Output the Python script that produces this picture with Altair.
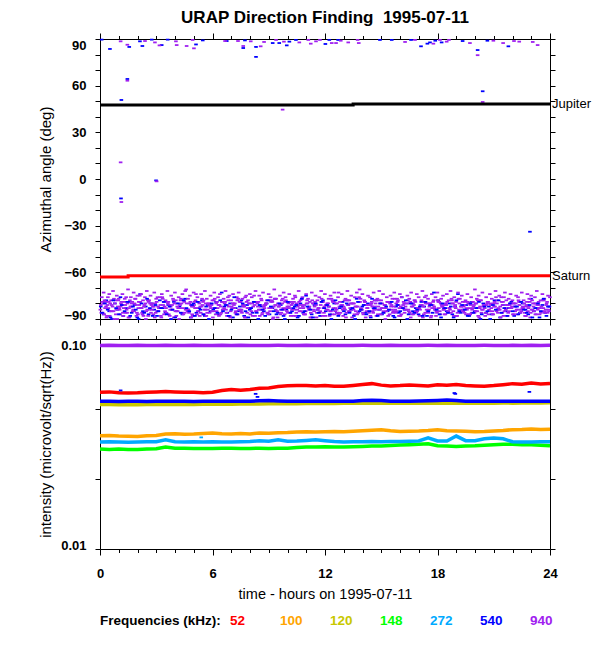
import altair as alt
import pandas as pd

FONT = "Liberation Sans"

FREQS = ["52", "100", "120", "148", "272", "540", "940"]
COLORS = ["#ff0000", "#ffa500", "#c8c800", "#00ff00", "#00aaff", "#0000ff", "#a020f0"]

TITLE = "URAP Direction Finding\u00a0 1995-07-11"
LEG_TITLE = "Frequencies (kHz):"

# ---------------- top panel: azimuthal angle ----------------
# dense band near -80 deg, purple (940 kHz), four interleaved rows, 0.1 h apart
P_STEP = 0.1
P1 = [-84,-79,-87,-82,-76,-88,-81,-85,-78,-90,-83,-80,-86,-77,-84,-89,-82,-79,-85,-81,
      -87,-75,-83,-88,-80,-84,-78,-86,-82,-89,-79,-85,-81,-76,-87,-83,-80,-88,-84,-78,
      -85,-82,-90,-77,-83,-86,-80,-84,-79,-87,-81,-74,-85,-88,-82,-78,-84,-86,-80,-83,
      -89,-77,-85,-81,-87,-79,-83,-84,-76,-88,-82,-80,-86,-78,-84,-85,-81,-89,-79,-83,
      -87,-80,-75,-85,-82,-88,-78,-84,-81,-86,-83,-79,-90,-77,-85,-82,-87,-80,-84,-78,
      -86,-83,-81,-88,-76,-84,-79,-85,-82,-87,-80,-83,-89,-78,-85,-81,-84,-86,-77,-83,
      -88,-80,-82,-85,-79,-87,-84,-73,-86,-81,-83,-89,-78,-85,-80,-84,-82,-87,-76,-83,
      -86,-79,-85,-81,-88,-82,-84,-78,-87,-80,-83,-85,-90,-79,-84,-82,-86,-77,-85,-81,
      -88,-83,-80,-84,-78,-86,-82,-87,-79,-85,-83,-81,-89,-76,-84,-86,-80,-83,-82,-88,
      -78,-85,-81,-84,-87,-79,-83,-86,-80,-82,-88,-77,-85,-84,-81,-87,-79,-83,-86,-82,
      -80,-85,-89,-78,-84,-83,-81,-87,-80,-85,-82,-76,-86,-84,-79,-88,-83,-81,-85,-80,
      -87,-82,-84,-78,-86,-83,-80,-88,-85,-79,-84,-82,-87,-81,-83,-86,-78,-85,-80,-84]
P2 = [-81,-86,-78,-89,-83,-80,-85,-77,-87,-82,-84,-79,-88,-81,-86,-83,-76,-85,-80,-88,
      -83,-79,-86,-82,-90,-78,-84,-81,-87,-80,-85,-83,-88,-77,-82,-86,-79,-84,-81,-89,
      -78,-85,-83,-80,-87,-72,-84,-86,-81,-88,-79,-83,-85,-82,-77,-87,-80,-84,-86,-81,
      -85,-83,-79,-88,-82,-84,-80,-86,-78,-89,-83,-81,-85,-87,-79,-84,-82,-76,-86,-80,
      -83,-88,-81,-85,-79,-84,-87,-82,-80,-86,-78,-83,-89,-81,-85,-82,-84,-77,-87,-83,
      -80,-86,-84,-79,-88,-82,-85,-81,-83,-87,-78,-84,-86,-80,-82,-89,-83,-85,-79,-86,
      -81,-84,-88,-77,-83,-85,-80,-87,-82,-84,-78,-86,-81,-83,-89,-80,-85,-82,-71,-84,
      -87,-79,-83,-86,-81,-85,-78,-88,-82,-84,-80,-86,-83,-79,-87,-81,-85,-84,-77,-88,
      -82,-83,-86,-80,-84,-79,-87,-81,-85,-83,-88,-78,-82,-86,-80,-84,-89,-81,-83,-85,
      -79,-87,-82,-84,-80,-86,-83,-77,-85,-81,-88,-84,-82,-79,-86,-83,-80,-87,-84,-81,
      -85,-78,-83,-86,-82,-88,-80,-84,-81,-87,-79,-85,-83,-82,-86,-76,-84,-88,-81,-83,
      -80,-85,-87,-79,-84,-82,-86,-81,-83,-89,-78,-85,-80,-84,-87,-82,-83,-86,-79,-85]
P3 = [-86,-80,-83,-88,-79,-85,-82,-90,-84,-78,-87,-81,-83,-86,-80,-89,-82,-84,-77,-86,
      -79,-83,-87,-81,-85,-88,-80,-84,-82,-86,-76,-83,-89,-81,-85,-79,-87,-82,-84,-80,
      -88,-83,-81,-86,-78,-84,-85,-80,-89,-82,-83,-87,-79,-86,-81,-84,-88,-80,-82,-85,
      -78,-87,-83,-81,-86,-84,-79,-88,-82,-85,-80,-83,-87,-77,-84,-86,-81,-89,-83,-80,
      -85,-82,-88,-79,-84,-81,-86,-83,-80,-87,-85,-78,-82,-84,-89,-81,-86,-83,-79,-85,
      -82,-88,-80,-84,-86,-81,-83,-77,-87,-85,-80,-82,-89,-84,-79,-86,-83,-81,-88,-82,
      -84,-80,-85,-87,-79,-83,-86,-82,-81,-88,-84,-78,-85,-80,-83,-87,-82,-86,-79,-84,
      -81,-89,-83,-85,-80,-86,-82,-84,-78,-87,-83,-81,-85,-88,-80,-84,-82,-86,-79,-83,
      -87,-81,-84,-80,-85,-89,-82,-78,-86,-83,-84,-81,-87,-80,-85,-82,-88,-79,-84,-86,
      -83,-80,-82,-87,-81,-85,-84,-78,-88,-83,-86,-80,-82,-85,-79,-84,-87,-81,-83,-86,
      -80,-88,-82,-84,-81,-86,-79,-85,-83,-87,-82,-80,-84,-89,-81,-85,-78,-86,-83,-82,
      -87,-80,-84,-81,-85,-83,-88,-79,-82,-86,-84,-80,-87,-81,-83,-85,-78,-84,-86,-82]
P4 = [-76,-73,-79,-81,-74,-78,-72,-80,-75,-77,-82,-74,-79,-76,-71,-78,-80,-73,-77,-75,
      -81,-74,-78,-76,-72,-79,-75,-80,-73,-77,-82,-76,-74,-79,-78,-72,-81,-75,-77,-73,
      -80,-76,-78,-74,-79,-71,-77,-75,-82,-73,-78,-76,-80,-74,-79,-72,-77,-81,-75,-78,
      -73,-80,-76,-74,-79,-77,-72,-81,-75,-78,-74,-80,-76,-73,-79,-77,-82,-75,-78,-74,
      -76,-79,-72,-80,-75,-77,-73,-81,-78,-74,-76,-79,-71,-77,-80,-75,-78,-73,-76,-82,
      -74,-79,-77,-75,-80,-72,-78,-76,-81,-74,-77,-79,-73,-80,-75,-78,-76,-72,-79,-74,
      -81,-77,-75,-78,-73,-80,-76,-79,-74,-82,-77,-72,-78,-75,-80,-76,-73,-79,-77,-74,
      -78,-81,-75,-76,-79,-73,-80,-77,-72,-78,-74,-81,-76,-79,-75,-77,-73,-80,-78,-74,
      -76,-79,-82,-75,-77,-73,-80,-78,-74,-76,-81,-72,-79,-75,-77,-80,-74,-78,-76,-73,
      -79,-77,-75,-81,-74,-78,-72,-80,-76,-79,-73,-77,-75,-82,-78,-74,-80,-76,-79,-71,
      -77,-75,-78,-73,-81,-76,-79,-74,-77,-80,-72,-78,-75,-76,-79,-73,-81,-77,-74,-78,
      -80,-75,-76,-79,-73,-78,-82,-74,-77,-75,-80,-76,-72,-79,-78,-74,-77,-81,-75,-76]
# blue (540 kHz) band rows, 0.15 h apart
B_STEP = 0.15
B1 = [-82,-87,-78,-85,-90,-80,-84,-76,-88,-83,-79,-86,-81,-89,-74,-85,-82,-87,-80,-84,
      -88,-78,-83,-86,-81,-90,-79,-85,-82,-87,-77,-84,-89,-80,-86,-83,-78,-88,-81,-85,
      -84,-79,-87,-73,-82,-86,-80,-89,-83,-85,-78,-88,-81,-84,-86,-79,-90,-82,-85,-80,
      -87,-83,-77,-86,-81,-88,-84,-79,-85,-82,-89,-80,-86,-75,-83,-87,-81,-84,-88,-78,
      -85,-82,-90,-80,-86,-83,-79,-87,-81,-84,-88,-77,-85,-82,-86,-80,-89,-83,-78,-84,
      -87,-81,-85,-79,-88,-82,-86,-76,-84,-90,-80,-85,-83,-87,-79,-82,-88,-81,-86,-84,
      -78,-89,-83,-85,-80,-87,-82,-74,-86,-84,-81,-88,-79,-85,-83,-90,-80,-86,-82,-87,
      -78,-84,-89,-81,-85,-83,-79,-88,-82,-86,-80,-84,-87,-77,-85,-83,-89,-81,-86,-82]
B2 = [-86,-80,-84,-89,-78,-83,-87,-81,-85,-79,-88,-82,-84,-90,-80,-86,-77,-83,-88,-81,
      -85,-83,-79,-87,-82,-84,-89,-80,-86,-78,-83,-85,-81,-88,-79,-84,-87,-82,-90,-80,
      -83,-86,-78,-85,-81,-88,-84,-76,-87,-82,-80,-85,-89,-83,-79,-86,-81,-84,-88,-78,
      -82,-85,-87,-80,-84,-90,-79,-86,-83,-81,-88,-77,-85,-82,-84,-89,-80,-86,-79,-83,
      -81,-87,-84,-78,-88,-82,-85,-80,-86,-83,-90,-79,-84,-81,-87,-85,-77,-83,-88,-80,
      -86,-82,-84,-79,-89,-81,-85,-83,-78,-87,-80,-86,-84,-82,-88,-79,-85,-81,-73,-84,
      -87,-80,-83,-86,-82,-89,-78,-85,-81,-84,-88,-80,-86,-83,-79,-87,-82,-85,-90,-81,
      -84,-78,-86,-83,-88,-80,-85,-82,-87,-79,-84,-86,-81,-89,-83,-80,-85,-77,-88,-82]

# sparse detections away from the band
BLUE_T = [0.09, 0.53, 1.14, 1.46, 1.56, 1.12, 2.13, 2.26, 2.76, 3.29, 3.61, 2.99, 5.12, 5.48,
          6.76, 7.73, 7.64, 8.32, 8.32, 9.21, 9.56, 9.96, 10.1, 10.45, 12.02, 12.23, 12.7,
          14.93, 15.56, 16.59, 17.12, 17.46, 17.6, 17.88, 18.22, 19.34, 20.14, 20.41, 20.66,
          21.78, 22.93]
BLUE_A = [89.6, 83.6, 50.8, 64.3, 84.9, -12.5, 88.5, 85.5, 89.6, 86.1, 89.6, -0.9, 86.5, 89.1,
          88.7, 89.1, 84.2, 84.9, 78.5, 87.4, 87.4, 85.9, 88.3, 89.4, 86.8, 89.4, 89.4,
          89.4, 89.4, 89.4, 85.3, 87.0, 87.8, 88.9, 87.8, 88.7, 82.9, 56.4, 88.9,
          85.3, -33.9]
PURPLE_T = [1.1, 1.46, 1.46, 1.1, 1.14, 3.02, 2.4, 2.93, 3.17, 4.05, 4.09, 4.62, 5.01, 4.94,
            6.67, 7.36, 7.64, 8.04, 8.57, 8.75, 9.39, 9.74, 9.81, 10.63, 11.11, 11.24, 11.52,
            11.73, 12.36, 12.59, 12.84, 13.24, 13.74, 13.8, 16.27, 16.8, 17.78, 18.13, 18.49,
            18.61, 19.73, 20.14, 20.41, 20.98, 21.5, 22.08, 22.36, 23.08, 23.34]
PURPLE_A = [88.5, 86.3, 63.2, 10.7, -14.8, -1.5, 88.7, 87.8, 85.9, 88.5, 86.1, 85.5, 84.0, 89.4,
            88.7, 88.7, 85.5, 88.5, 85.3, 88.1, 89.4, 44.6, 88.3, 87.8, 89.4, 87.0, 88.5,
            89.4, 87.4, 87.4, 88.9, 87.8, 89.4, 87.4, 88.1, 89.4, 87.0, 89.4, 88.3,
            89.4, 87.4, 79.6, 49.5, 88.9, 87.4, 88.7, 88.3, 88.1, 86.1]

JUP_T = [0, 13.5, 13.5, 24]
JUP_A = [47.6, 47.6, 48.2, 48.2]
SAT_T = [0, 1.5, 1.5, 24]
SAT_A = [-63.0, -63.0, -62.2, -62.2]

# ---------------- bottom panel: intensity, every half hour ----------------
HOURS = [i * 0.5 for i in range(49)]
I52 = [0.0557,0.0560,0.0555,0.0553,0.0554,0.0557,0.0560,0.0562,0.0560,0.0558,
       0.0557,0.0554,0.0558,0.0568,0.0574,0.0570,0.0575,0.0583,0.0585,0.0594,
       0.0599,0.0601,0.0600,0.0597,0.0601,0.0596,0.0595,0.0601,0.0607,0.0613,
       0.0603,0.0598,0.0600,0.0604,0.0600,0.0597,0.0606,0.0602,0.0607,0.0601,
       0.0598,0.0596,0.0600,0.0606,0.0613,0.0609,0.0617,0.0611,0.0614]
I100 = [0.0346,0.0347,0.0345,0.0344,0.0343,0.0346,0.0347,0.0353,0.0354,0.0352,
        0.0353,0.0355,0.0357,0.0354,0.0353,0.0355,0.0353,0.0357,0.0356,0.0358,
        0.0359,0.0361,0.0362,0.0361,0.0362,0.0363,0.0362,0.0364,0.0366,0.0368,
        0.0370,0.0366,0.0363,0.0364,0.0365,0.0367,0.0370,0.0366,0.0365,0.0364,
        0.0362,0.0363,0.0365,0.0367,0.0370,0.0371,0.0373,0.0371,0.0372]
I120 = [0.0487,0.0488,0.0486,0.0488,0.0486,0.0487,0.0488,0.0487,0.0488,0.0489,
        0.0488,0.0489,0.0489,0.0490,0.0489,0.0490,0.0491,0.0490,0.0491,0.0492,
        0.0493,0.0492,0.0493,0.0493,0.0494,0.0493,0.0494,0.0494,0.0495,0.0494,
        0.0494,0.0495,0.0494,0.0495,0.0495,0.0494,0.0495,0.0496,0.0495,0.0494,
        0.0495,0.0496,0.0495,0.0496,0.0495,0.0496,0.0497,0.0496,0.0497]
I148 = [0.0299,0.0298,0.0299,0.0298,0.0298,0.0299,0.0300,0.0306,0.0302,0.0302,
        0.0301,0.0301,0.0301,0.0302,0.0302,0.0301,0.0301,0.0302,0.0301,0.0302,
        0.0302,0.0304,0.0306,0.0306,0.0307,0.0306,0.0306,0.0307,0.0308,0.0309,
        0.0309,0.0311,0.0313,0.0314,0.0315,0.0317,0.0310,0.0309,0.0308,0.0309,
        0.0310,0.0312,0.0314,0.0315,0.0315,0.0314,0.0314,0.0312,0.0310]
I272 = [0.0323,0.0324,0.0323,0.0322,0.0323,0.0324,0.0324,0.0331,0.0324,0.0323,
        0.0324,0.0323,0.0324,0.0323,0.0323,0.0324,0.0325,0.0328,0.0326,0.0331,
        0.0326,0.0327,0.0329,0.0331,0.0328,0.0325,0.0323,0.0324,0.0324,0.0325,
        0.0324,0.0325,0.0325,0.0326,0.0327,0.0338,0.0327,0.0327,0.0345,0.0328,
        0.0328,0.0335,0.0338,0.0335,0.0324,0.0323,0.0323,0.0324,0.0324]
I540 = [0.0505,0.0505,0.0504,0.0506,0.0505,0.0504,0.0505,0.0505,0.0506,0.0505,
        0.0504,0.0505,0.0505,0.0506,0.0505,0.0505,0.0506,0.0508,0.0510,0.0507,
        0.0505,0.0505,0.0506,0.0505,0.0505,0.0506,0.0505,0.0506,0.0509,0.0511,
        0.0509,0.0506,0.0505,0.0506,0.0507,0.0508,0.0510,0.0512,0.0509,0.0506,
        0.0505,0.0506,0.0505,0.0506,0.0505,0.0505,0.0506,0.0505,0.0505]
I940 = [0.0932,0.0934,0.0931,0.0932,0.0933,0.0931,0.0932,0.0934,0.0932,0.0931,
        0.0933,0.0932,0.0931,0.0933,0.0932,0.0934,0.0932,0.0931,0.0932,0.0933,
        0.0932,0.0931,0.0933,0.0932,0.0934,0.0932,0.0931,0.0932,0.0933,0.0932,
        0.0931,0.0933,0.0932,0.0931,0.0932,0.0933,0.0932,0.0934,0.0932,0.0931,
        0.0932,0.0933,0.0932,0.0931,0.0933,0.0932,0.0934,0.0932,0.0933]
# isolated intensity samples off their lines
ODD_T = [1.1, 8.3, 8.4, 18.9, 18.95, 22.9, 5.4]
ODD_V = [0.0569, 0.0548, 0.0530, 0.0553, 0.0548, 0.0560, 0.0340]
ODD_F = ["540", "540", "540", "540", "540", "540", "272"]

# ---------------- build tables ----------------
rows = []
for i, a in enumerate(B1):
    rows.append({"t": round(0.04 + i * B_STEP, 3), "a": a, "freq": "540"})
for t, a in zip(BLUE_T, BLUE_A):
    rows.append({"t": t, "a": a, "freq": "540"})
for off, vals in ((0.02, P1), (0.045, P2), (0.07, P3), (0.095, P4)):
    for i, a in enumerate(vals):
        rows.append({"t": round(off + i * P_STEP, 3), "a": a, "freq": "940"})
for t, a in zip(PURPLE_T, PURPLE_A):
    rows.append({"t": t, "a": a, "freq": "940"})
for i, a in enumerate(B2):
    rows.append({"t": round(0.11 + i * B_STEP, 3), "a": a, "freq": "540"})
az_df = pd.DataFrame(rows)

jup_df = pd.DataFrame({"t": JUP_T, "a": JUP_A})
sat_df = pd.DataFrame({"t": SAT_T, "a": SAT_A})
lab_df = pd.DataFrame({"t": [JUP_T[-1], SAT_T[-1]], "a": [JUP_A[-1], SAT_A[-1]],
                       "name": ["Jupiter", "Saturn"]})

series = {"52": I52, "100": I100, "120": I120, "148": I148, "272": I272, "540": I540, "940": I940}
irows = []
for f in FREQS:
    for t, v in zip(HOURS, series[f]):
        irows.append({"t": t, "v": v, "freq": f})
int_df = pd.DataFrame(irows)
odd_df = pd.DataFrame({"t": ODD_T, "v": ODD_V, "freq": ODD_F})

# ---------------- scales & axes ----------------
color_scale = alt.Scale(domain=FREQS, range=COLORS)
x_scale = alt.Scale(domain=[0, 24], nice=False, zero=False)
ya_scale = alt.Scale(domain=[-90, 90], nice=False, zero=False)
yi_scale = alt.Scale(type="log", domain=[0.01, 0.1], nice=False)

DASH = "M-1,-0.5H1V0.5H-1Z"
TITLE_SIZE = 15


def x_axis(orient, labels=False, title=None):
    kw = dict(orient=orient, values=list(range(25)),
              tickSize={"condition": {"test": "datum.value % 6 === 0", "value": 6}, "value": 3.5},
              labels=labels, labelExpr="datum.value % 6 === 0 ? datum.label : ''",
              labelOverlap=False, labelFlush=False, labelPadding=12, title=title, grid=False)
    if title:
        kw.update(titlePadding=7, titleFontSize=14.5, titleFont=FONT, titleFontWeight="normal")
    return alt.Axis(**kw)


def y_axis(orient, values, expr, top, bottom, labels=False, title=None):
    kw = dict(orient=orient, values=values, tickSize=5, labels=labels, labelExpr=expr,
              labelOverlap=False, labelFlush=False, labelPadding=9, title=title, grid=False,
              labelBaseline={"condition": [{"test": "datum.value >= %r" % top, "value": "top"},
                                           {"test": "datum.value <= %r" % bottom, "value": "alphabetic"}],
                             "value": "middle"})
    if title:
        kw.update(titleX=-55, titleBaseline="middle", titleFontSize=TITLE_SIZE, titleFont=FONT,
                  titleFontWeight="normal")
    return alt.Axis(**kw)


ANG_VALUES = list(range(-90, 91, 10))
ANG_EXPR = "datum.value % 30 === 0 ? datum.label : ''"
INT_VALUES = [0.01, 0.0215443, 0.0464159, 0.1]
INT_EXPR = "datum.value > 0.09 ? '0.10' : (datum.value < 0.011 ? '0.01' : '')"

# ---------------- top panel ----------------
scatter = alt.Chart(az_df).mark_point(shape=DASH, filled=True, size=13, opacity=1, strokeWidth=0).encode(
    x=alt.X("t:Q", scale=x_scale, axis=x_axis("bottom")),
    y=alt.Y("a:Q", scale=ya_scale,
            axis=y_axis("left", ANG_VALUES, ANG_EXPR, 90, -90, True, "Azimuthal angle (deg)")),
    color=alt.Color("freq:N", scale=color_scale, legend=None),
)
jup = alt.Chart(jup_df).mark_line(color="black", strokeWidth=3).encode(
    x=alt.X("t:Q", scale=x_scale, axis=x_axis("top")),
    y=alt.Y("a:Q", scale=ya_scale, axis=y_axis("right", ANG_VALUES, ANG_EXPR, 90, -90)),
)
sat = alt.Chart(sat_df).mark_line(color="#ff0000", strokeWidth=3).encode(
    x=alt.X("t:Q", scale=x_scale, axis=None),
    y=alt.Y("a:Q", scale=ya_scale, axis=None),
)
labs = alt.Chart(lab_df).mark_text(align="left", baseline="middle", dx=2, font=FONT, fontSize=13,
                                   color="black").encode(
    x=alt.X("t:Q", scale=x_scale, axis=None),
    y=alt.Y("a:Q", scale=ya_scale, axis=None),
    text="name:N",
)
top = alt.layer(scatter, jup, sat, labs).resolve_axis(x="independent", y="independent").properties(
    width=450, height=280,
    title=alt.TitleParams(TITLE, anchor="middle", frame="group", font=FONT, fontSize=17,
                          fontWeight="bold", offset=6, color="black"),
)

# ---------------- bottom panel ----------------
lines = alt.Chart(int_df).mark_line(strokeWidth=3.5).encode(
    x=alt.X("t:Q", scale=x_scale, axis=x_axis("bottom", True, "time - hours on 1995-07-11")),
    y=alt.Y("v:Q", scale=yi_scale,
            axis=y_axis("left", INT_VALUES, INT_EXPR, 0.09, 0.011, True,
                        "intensity (microvolt/sqrt(Hz))")),
    color=alt.Color("freq:N", scale=color_scale, legend=None),
)
odd = alt.Chart(odd_df).mark_point(shape=DASH, filled=True, size=13, opacity=1, strokeWidth=0).encode(
    x=alt.X("t:Q", scale=x_scale, axis=x_axis("top")),
    y=alt.Y("v:Q", scale=yi_scale, axis=y_axis("right", INT_VALUES, INT_EXPR, 0.09, 0.011)),
    color=alt.Color("freq:N", scale=color_scale, legend=None),
)
bottom = alt.layer(lines, odd).resolve_axis(x="independent", y="independent").properties(
    width=450, height=210)

# ---------------- frequency key ----------------
key_df = pd.DataFrame({"freq": FREQS, "i": list(range(len(FREQS)))})
key_title = alt.Chart(pd.DataFrame({"s": [LEG_TITLE]})).mark_text(
    align="left", baseline="middle", font=FONT, fontSize=13.5, fontWeight="bold", color="black").encode(
    x=alt.value(0), y=alt.value(52), text="s:N")
key_vals = alt.Chart(key_df).mark_text(
    align="left", baseline="middle", font=FONT, fontSize=13.5, fontWeight="bold").encode(
    x=alt.X("i:Q", scale=alt.Scale(domain=[-2.6, 6.4], nice=False, zero=False), axis=None),
    y=alt.value(52),
    text="freq:N",
    color=alt.Color("freq:N", scale=color_scale, legend=None),
)
key = alt.layer(key_title, key_vals).properties(width=450, height=61)

chart = alt.vconcat(top, bottom, key, spacing=20, bounds="flush").resolve_scale(
    x="independent", y="independent"
).properties(
    padding={"left": 29, "top": 0, "right": 0, "bottom": 0},
    background="white",
).configure_view(stroke=None).configure_axis(
    domainColor="black", tickColor="black", labelColor="black", titleColor="black",
    domainWidth=1, tickWidth=1, labelFont=FONT, labelFontSize=13, labelFontWeight="bold",
)

chart.save("out.html", embed_options={"renderer": "svg", "actions": False})
